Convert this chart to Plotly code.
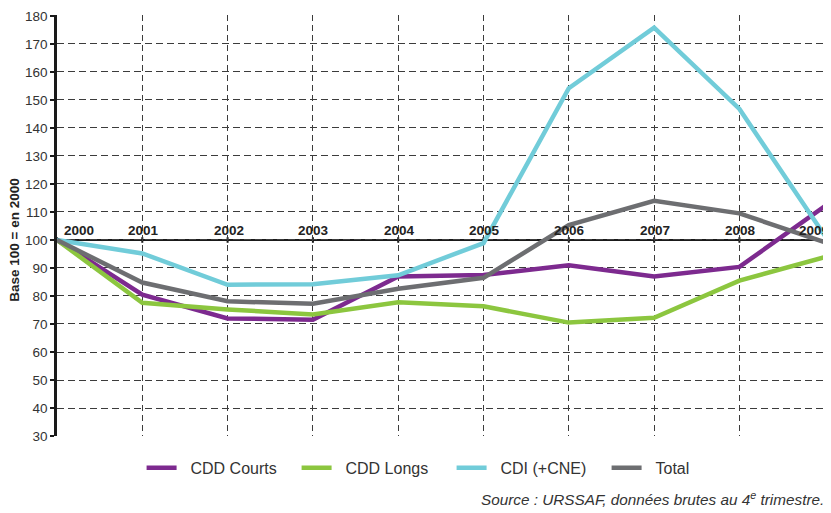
import plotly.graph_objects as go

years = [2000, 2001, 2002, 2003, 2004, 2005, 2006, 2007, 2008, 2009]
cdd_courts = [100, 80.5, 72, 71.5, 87, 87.5, 91, 87, 90.4, 112]
cdd_longs = [100, 77.6, 75.2, 73.4, 77.8, 76.3, 70.5, 72.2, 85.5, 93.9]
cdi_cne = [100, 95.2, 84, 84.2, 87.4, 98.9, 154.2, 175.8, 146.8, 101.6]
total = [100, 84.8, 78.1, 77.2, 82.6, 86.5, 105.3, 114, 109.5, 99.2]

series_names = ["CDD Courts", "CDD Longs", "CDI (+CNE)", "Total"]
series_values = [cdd_courts, cdd_longs, cdi_cne, total]
series_colors = ["#7D2A8F", "#8CC63F", "#71CCD9", "#6D6E71"]

y_ticks = list(range(30, 190, 10))

FONT = "Liberation Sans, Arial, sans-serif"
PAD = "\u00a0\u00a0"

fig = go.Figure()
for name, vals, col in zip(series_names, series_values, series_colors):
    fig.add_trace(go.Scatter(
        x=years, y=vals, name=PAD + name, mode="lines",
        line=dict(color=col, width=4.5),
        cliponaxis=False,
    ))

# baseline at 100 with year labels above it
fig.add_shape(type="line", xref="x", yref="y", x0=years[0], x1=years[-1], y0=100, y1=100,
              line=dict(color="#1a1a1a", width=2), layer="below")
for yr in years:
    fig.add_shape(type="line", xref="x", yref="y", x0=yr, x1=yr, y0=99, y1=101,
                  line=dict(color="#1a1a1a", width=2), layer="below")
    if yr == years[0]:
        xa, xs = "left", 5
    elif yr == years[-1]:
        xa, xs = "right", 6
    else:
        xa, xs = "center", 1
    fig.add_annotation(x=yr, y=100, xref="x", yref="y", text="<b>%d</b>" % yr,
                       showarrow=False, yanchor="bottom", yshift=0,
                       xanchor=xa, xshift=xs,
                       font=dict(family=FONT, size=13.5, color="#222222"))

# y axis title
fig.add_annotation(x=-0.055, y=100, xref="paper", yref="y", text="<b>Base 100 = en 2000</b>",
                   textangle=-90, showarrow=False, xanchor="center", yanchor="middle",
                   font=dict(family=FONT, size=13.5, color="#222222"))

# source
fig.add_annotation(x=1, y=-0.148, xref="paper", yref="paper",
                   text="<i>Source : URSSAF, données brutes au 4<sup>e</sup> trimestre.</i>",
                   showarrow=False, xanchor="right", yanchor="middle", xshift=0,
                   font=dict(family=FONT, size=15.3, color="#333333"))

fig.update_xaxes(
    range=[years[0], years[-1] + 0.015], tickvals=years, showticklabels=False,
    showgrid=True, gridcolor="#3c3c3c", griddash="6px,4px", gridwidth=1,
    zeroline=False, showline=False, ticks="", automargin=False,
)
fig.update_yaxes(
    range=[30, 180.35], tickvals=y_ticks, ticktext=[str(v) for v in y_ticks],
    showgrid=True, gridcolor="#3c3c3c", griddash="7px,4px", gridwidth=1,
    zeroline=False, showline=True, linecolor="#1a1a1a", linewidth=2.5,
    ticks="outside", ticklen=4, tickcolor="#1a1a1a", tickwidth=1.5,
    tickfont=dict(family=FONT, size=13.5, color="#333333"),
    ticklabeloverflow="allow", automargin=False,
)

fig.update_layout(
    width=823, height=505,
    margin=dict(l=49, r=5, t=7, b=77, autoexpand=False),
    paper_bgcolor="white", plot_bgcolor="white",
    showlegend=True,
    legend=dict(orientation="h", x=0.11, xanchor="left", y=-0.035, yanchor="top",
                font=dict(family=FONT, size=16, color="#333333"),
                entrywidth=110, entrywidthmode="pixels", tracegroupgap=0),
    font=dict(family=FONT),
)

fig.write_html("out.html")
